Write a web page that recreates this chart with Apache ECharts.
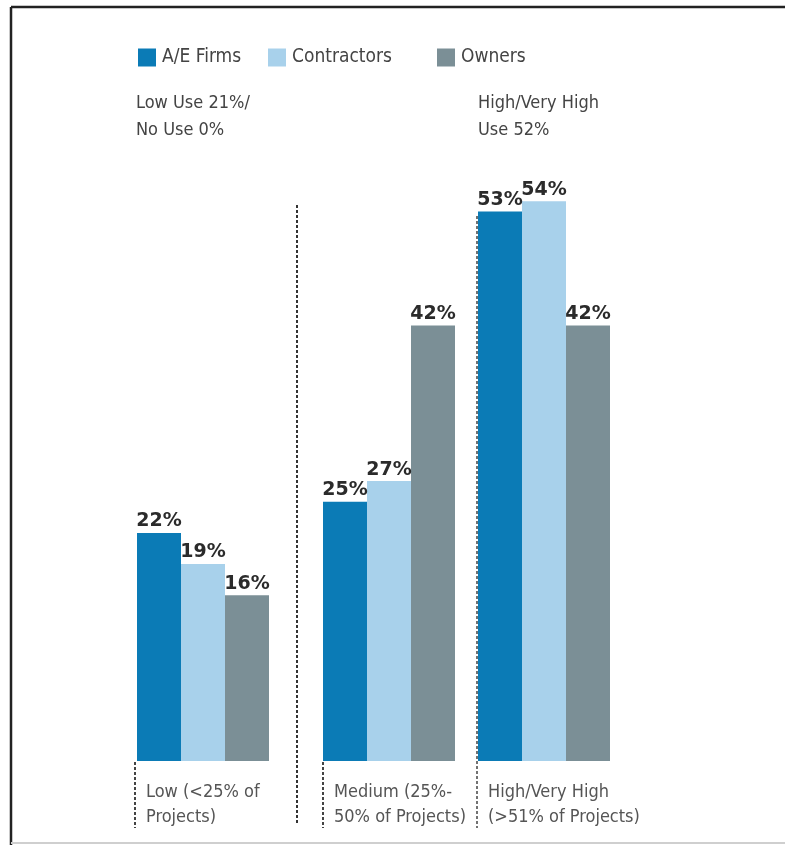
<!DOCTYPE html>
<html>
<head>
<meta charset="utf-8">
<script src="https://cdn.jsdelivr.net/npm/echarts@6/dist/echarts.min.js"></script>
<style>
  html, body { margin: 0; padding: 0; background: #fff; }
  #chart { width: 785px; height: 845px; }
</style>
</head>
<body>
<div id="chart"></div>
<script>
// data
const categories = ['Low (<25% of\nProjects)', 'Medium (25%-\n50% of Projects)', 'High/Very High\n(>51% of Projects)'];
const seriesNames = ['A/E Firms', 'Contractors', 'Owners'];
const aeFirms = [22, 25, 53];
const contractors = [19, 27, 54];
const owners = [16, 42, 42];
const noteLow = 'Low Use 21%/\nNo Use 0%';
const noteHigh = 'High/Very High\nUse 52%';

const colors = ['#0b7bb6', '#a8d1eb', '#7b8f96'];
const narrow = "'Liberation Sans Narrow', 'DejaVu Sans Condensed', sans-serif";

// one grid per group, groups are not evenly spaced in the original
const groupLeft = [136, 322, 478];
const groupWidth = [134, 134, 132];
const labelLeft = [146, 334, 488];
const legendLeft = [133, 263, 432];

let chart = echarts.init(document.getElementById('chart'));

let grids = [], xAxes = [], yAxes = [], series = [];
groupLeft.forEach((left, i) => {
  grids.push({ left: left, width: groupWidth[i], top: 139, bottom: 84 });
  xAxes.push({
    type: 'category', gridIndex: i, data: [categories[i]],
    axisLine: { show: false }, axisTick: { show: false }, axisLabel: { show: false }
  });
  yAxes.push({
    type: 'value', gridIndex: i, min: 0, max: 60,
    show: false, splitLine: { show: false }
  });
  [aeFirms, contractors, owners].forEach((arr, k) => {
    series.push({
      name: seriesNames[k],
      type: 'bar',
      xAxisIndex: i,
      yAxisIndex: i,
      barWidth: 44,
      barGap: '0%',
      itemStyle: { color: colors[k] },
      label: {
        show: true,
        position: 'top',
        distance: 2,
        formatter: '{c}%',
        color: '#2b2b2b',
        fontFamily: 'DejaVu Sans',
        fontWeight: 'bold',
        fontSize: 19
      },
      data: [arr[i]]
    });
  });
});

// legend items are placed one by one, like in the print
let legends = seriesNames.map((n, k) => ({
  data: [n],
  left: legendLeft[k],
  top: 43,
  icon: 'rect',
  itemWidth: 18,
  itemHeight: 18,
  textStyle: { color: '#444', fontFamily: narrow, fontSize: 19, lineHeight: 18, padding: [0, 0, 0, 1] }
}));

// text and dotted decoration
let graphics = [
  { type: 'line', shape: { x1: 11, y1: 7, x2: 785, y2: 7 }, style: { stroke: '#222', lineWidth: 2.5 } },
  { type: 'line', shape: { x1: 11, y1: 7, x2: 11, y2: 845 }, style: { stroke: '#222', lineWidth: 2.5 } },
  { type: 'line', shape: { x1: 11, y1: 843, x2: 785, y2: 843 }, style: { stroke: '#cfcfcf', lineWidth: 2 } },
  { type: 'line', shape: { x1: 297, y1: 205, x2: 297, y2: 823 }, style: { stroke: '#333', lineWidth: 2, lineDash: [3, 2] } },
  { type: 'line', shape: { x1: 135, y1: 762, x2: 135, y2: 828 }, style: { stroke: '#444', lineWidth: 2, lineDash: [3, 2] } },
  { type: 'line', shape: { x1: 323, y1: 762, x2: 323, y2: 828 }, style: { stroke: '#444', lineWidth: 2, lineDash: [3, 2] } },
  { type: 'line', z: 10, shape: { x1: 477, y1: 216, x2: 477, y2: 828 }, style: { stroke: '#444', lineWidth: 1.5, lineDash: [3, 2] } },
  {
    type: 'text', left: 136, top: 90,
    style: { text: noteLow, fill: '#444', font: '18px ' + narrow, lineHeight: 27 }
  },
  {
    type: 'text', left: 478, top: 90,
    style: { text: noteHigh, fill: '#444', font: '18px ' + narrow, lineHeight: 27 }
  }
];
categories.forEach((c, i) => {
  graphics.push({
    type: 'text', left: labelLeft[i], top: 780,
    style: { text: c, fill: '#555', font: '18px ' + narrow, lineHeight: 25 }
  });
});

let option = {
  backgroundColor: '#fff',
  animation: false,
  color: colors,
  legend: legends,
  grid: grids,
  xAxis: xAxes,
  yAxis: yAxes,
  series: series,
  graphic: graphics
};

chart.setOption(option);
</script>
</body>
</html>
